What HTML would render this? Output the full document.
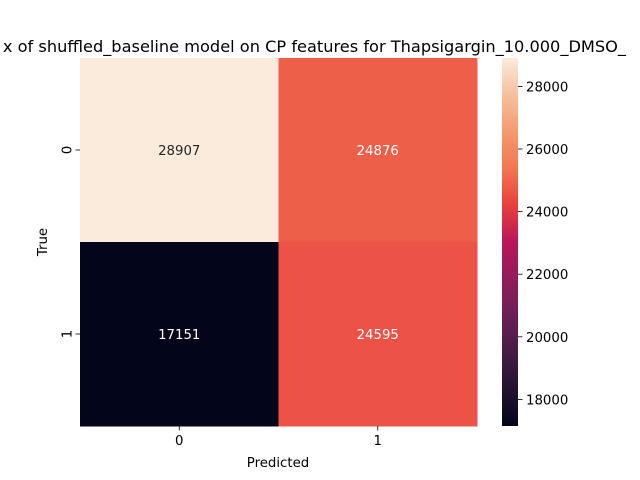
<!DOCTYPE html>
<html><head><meta charset="utf-8"><style>body{margin:0;background:#fff}svg{display:block;font-family:"DejaVu Sans","Liberation Sans",sans-serif}</style></head>
<body>
<svg id="c" width="640" height="480">
<defs><linearGradient id="g" x1="0" y1="1" x2="0" y2="0"></linearGradient></defs>
<text x="626" y="52" font-size="16.2" text-anchor="end">x of shuffled_baseline model on CP features for Thapsigargin_10.000_DMSO_</text>
<text x="278" y="467" font-size="13.3" text-anchor="middle">Predicted</text>
<text x="47" y="242" font-size="13.3" text-anchor="middle" transform="rotate(-90 47 242)">True</text>
</svg>
<script>
const rowLabels=['0','1'];
const colLabels=['0','1'];
const values=[[28907,24876],[17151,24595]];
const cbTicks=[18000,20000,22000,24000,26000,28000];
const stops=['#03051a','#221331','#451c47','#6b1f56','#921c5b','#b91657','#e8403f','#f37651','#f59a70','#f6c09d','#faebdd'];
const svg=document.getElementById('c'),NS='http://www.w3.org/2000/svg';
const X0=80,X1=477,Y0=58,Y1=426;
const flat=values.flat(),vmin=Math.min(...flat),vmax=Math.max(...flat);
function hex(h){return [1,3,5].map(i=>parseInt(h.substr(i,2),16));}
function color(v){let t=(v-vmin)/(vmax-vmin)*(stops.length-1);let i=Math.min(Math.floor(t),stops.length-2),f=t-i;const a=hex(stops[i]),b=hex(stops[i+1]);return 'rgb('+a.map((x,k)=>Math.round(x+(b[k]-x)*f)).join(',')+')';}
function lum(v){const c=color(v).match(/\d+/g).map(Number);return 0.299*c[0]+0.587*c[1]+0.114*c[2];}
function el(t,a,p){const e=document.createElementNS(NS,t);for(const k in a)e.setAttribute(k,a[k]);(p||svg).appendChild(e);return e;}
const cw=(X1-X0)/colLabels.length,rh=(Y1-Y0)/rowLabels.length;
values.forEach((row,r)=>row.forEach((v,c)=>{
 const rc=el('rect',{x:X0+c*cw,y:Y0+r*rh,width:cw+0.5,height:rh+0.5,fill:color(v)});
 
 
 const tx=el('text',{x:X0+(c+0.5)*cw,y:Y0+(r+0.5)*rh+5,'font-size':13.3,'text-anchor':'middle',fill:lum(v)>160?'#262626':'#fff'});
 tx.textContent=v;
 
 
}));
colLabels.forEach((l,c)=>{const x=X0+(c+0.5)*cw;el('line',{x1:x,x2:x,y1:Y1,y2:Y1+4.5,stroke:'#000','stroke-width':0.8});
 const t=el('text',{x:x,y:Y1+19,'font-size':13.3,'text-anchor':'middle'});t.textContent=l;
 
 });
rowLabels.forEach((l,r)=>{const y=Y0+(r+0.5)*rh;el('line',{x1:X0-4.5,x2:X0,y1:y,y2:y,stroke:'#000','stroke-width':0.8});
 const t=el('text',{x:X0-13,y:y,'font-size':13.3,'text-anchor':'middle',transform:'rotate(-90 '+(X0-13)+' '+y+')',dy:'0.35em'});t.textContent=l;
 
 });
const g=document.getElementById('g');
stops.forEach((s,i)=>el('stop',{offset:i/(stops.length-1),'stop-color':s},g));
const CX=502,CW=16;
const cb=el('rect',{x:CX,y:Y0,width:CW,height:Y1-Y0,fill:'url(#g)'});


cbTicks.forEach(v=>{const y=Y1-(v-vmin)/(vmax-vmin)*(Y1-Y0);
 el('line',{x1:CX+CW,x2:CX+CW+4.5,y1:y,y2:y,stroke:'#000','stroke-width':0.8});
 const t=el('text',{x:CX+CW+8,y:y+5,'font-size':13.3});t.textContent=v;
 
 });
</script>
</body></html>
